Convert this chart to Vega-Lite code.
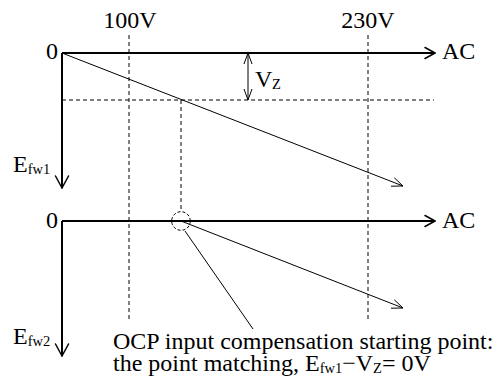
{
  "$schema": "https://vega.github.io/schema/vega-lite/v6.json",
  "width": 497,
  "height": 385,
  "autosize": {"type": "fit", "contains": "padding"},
  "padding": 0,
  "background": "white",
  "config": {"view": {"stroke": null}},
  "datasets": {
    "thick": [
      {"x": 62, "y": 53, "x2": 435, "y2": 53},
      {"x": 62, "y": 53, "x2": 62, "y2": 188},
      {"x": 62, "y": 221, "x2": 435, "y2": 221},
      {"x": 62, "y": 221, "x2": 62, "y2": 356}
    ],
    "heads": [
      {"x": 425, "y": 47.5, "x2": 435, "y2": 53},
      {"x": 425, "y": 58.5, "x2": 435, "y2": 53},
      {"x": 425, "y": 215.5, "x2": 435, "y2": 221},
      {"x": 425, "y": 226.5, "x2": 435, "y2": 221},
      {"x": 55.5, "y": 176, "x2": 62, "y2": 188},
      {"x": 68.5, "y": 176, "x2": 62, "y2": 188},
      {"x": 55.5, "y": 344, "x2": 62, "y2": 356},
      {"x": 68.5, "y": 344, "x2": 62, "y2": 356}
    ],
    "thin": [
      {"x": 62, "y": 53, "x2": 403, "y2": 186},
      {"x": 394.3, "y": 177.8, "x2": 403, "y2": 186},
      {"x": 391, "y": 186.2, "x2": 403, "y2": 186},
      {"x": 181, "y": 221, "x2": 403, "y2": 308},
      {"x": 394.3, "y": 299.8, "x2": 403, "y2": 308},
      {"x": 391, "y": 308.2, "x2": 403, "y2": 308},
      {"x": 248, "y": 53, "x2": 248, "y2": 100},
      {"x": 244, "y": 64, "x2": 248, "y2": 53},
      {"x": 252, "y": 64, "x2": 248, "y2": 53},
      {"x": 244, "y": 89, "x2": 248, "y2": 100},
      {"x": 252, "y": 89, "x2": 248, "y2": 100},
      {"x": 185, "y": 231, "x2": 253, "y2": 329}
    ],
    "dashed": [
      {"x": 129, "y": 35, "x2": 129, "y2": 322},
      {"x": 368, "y": 35, "x2": 368, "y2": 322},
      {"x": 62, "y": 100, "x2": 434, "y2": 100},
      {"x": 181, "y": 100, "x2": 181, "y2": 212}
    ],
    "circle": [{"x": 181, "y": 221}],
    "textL": [
      {"x": 442, "y": 59, "label": "AC"},
      {"x": 442, "y": 228, "label": "AC"},
      {"x": 13, "y": 172, "label": "E"},
      {"x": 13, "y": 344, "label": "E"},
      {"x": 255, "y": 87, "label": "V"},
      {"x": 113, "y": 349, "label": "OCP input compensation starting point:"},
      {"x": 113, "y": 371, "label": "the point matching, E"},
      {"x": 342.2, "y": 371, "label": "−V"},
      {"x": 382, "y": 371, "label": "= 0V"}
    ],
    "textC": [
      {"x": 130, "y": 28, "label": "100V"},
      {"x": 368, "y": 28, "label": "230V"}
    ],
    "textR": [
      {"x": 58, "y": 59, "label": "0"},
      {"x": 58, "y": 228, "label": "0"}
    ],
    "sub": [
      {"x": 27.7, "y": 174, "label": "fw1"},
      {"x": 27.7, "y": 346, "label": "fw2"},
      {"x": 272, "y": 89, "label": "Z"},
      {"x": 319.7, "y": 373, "label": "fw1"},
      {"x": 373.1, "y": 373, "label": "Z"}
    ]
  },
  "layer": [
    {
      "data": {"name": "dashed"},
      "mark": {"type": "rule", "color": "black", "strokeWidth": 1, "strokeDash": [4, 3]},
      "encoding": {
        "x": {"field": "x", "type": "quantitative", "scale": {"domain": [0, 497], "nice": false, "zero": false}, "axis": null},
        "y": {"field": "y", "type": "quantitative", "scale": {"domain": [0, 385], "nice": false, "zero": false, "reverse": true}, "axis": null},
        "x2": {"field": "x2"},
        "y2": {"field": "y2"}
      }
    },
    {
      "data": {"name": "thick"},
      "mark": {"type": "rule", "color": "black", "strokeWidth": 2},
      "encoding": {
        "x": {"field": "x", "type": "quantitative", "axis": null},
        "y": {"field": "y", "type": "quantitative", "axis": null},
        "x2": {"field": "x2"},
        "y2": {"field": "y2"}
      }
    },
    {
      "data": {"name": "heads"},
      "mark": {"type": "rule", "color": "black", "strokeWidth": 1.5, "strokeCap": "round"},
      "encoding": {
        "x": {"field": "x", "type": "quantitative", "axis": null},
        "y": {"field": "y", "type": "quantitative", "axis": null},
        "x2": {"field": "x2"},
        "y2": {"field": "y2"}
      }
    },
    {
      "data": {"name": "thin"},
      "mark": {"type": "rule", "color": "black", "strokeWidth": 1},
      "encoding": {
        "x": {"field": "x", "type": "quantitative", "axis": null},
        "y": {"field": "y", "type": "quantitative", "axis": null},
        "x2": {"field": "x2"},
        "y2": {"field": "y2"}
      }
    },
    {
      "data": {"name": "circle"},
      "mark": {"type": "point", "shape": "circle", "filled": false, "stroke": "black", "strokeWidth": 1, "strokeDash": [3, 2], "size": 346, "opacity": 1},
      "encoding": {
        "x": {"field": "x", "type": "quantitative", "axis": null},
        "y": {"field": "y", "type": "quantitative", "axis": null}
      }
    },
    {
      "data": {"name": "textL"},
      "mark": {"type": "text", "align": "left", "baseline": "alphabetic", "font": "Liberation Serif", "fontSize": 24, "color": "black"},
      "encoding": {
        "x": {"field": "x", "type": "quantitative", "axis": null},
        "y": {"field": "y", "type": "quantitative", "axis": null},
        "text": {"field": "label"}
      }
    },
    {
      "data": {"name": "textC"},
      "mark": {"type": "text", "align": "center", "baseline": "alphabetic", "font": "Liberation Serif", "fontSize": 24, "color": "black"},
      "encoding": {
        "x": {"field": "x", "type": "quantitative", "axis": null},
        "y": {"field": "y", "type": "quantitative", "axis": null},
        "text": {"field": "label"}
      }
    },
    {
      "data": {"name": "textR"},
      "mark": {"type": "text", "align": "right", "baseline": "alphabetic", "font": "Liberation Serif", "fontSize": 24, "color": "black"},
      "encoding": {
        "x": {"field": "x", "type": "quantitative", "axis": null},
        "y": {"field": "y", "type": "quantitative", "axis": null},
        "text": {"field": "label"}
      }
    },
    {
      "data": {"name": "sub"},
      "mark": {"type": "text", "align": "left", "baseline": "alphabetic", "font": "Liberation Serif", "fontSize": 14.5, "color": "black"},
      "encoding": {
        "x": {"field": "x", "type": "quantitative", "axis": null},
        "y": {"field": "y", "type": "quantitative", "axis": null},
        "text": {"field": "label"}
      }
    }
  ]
}
